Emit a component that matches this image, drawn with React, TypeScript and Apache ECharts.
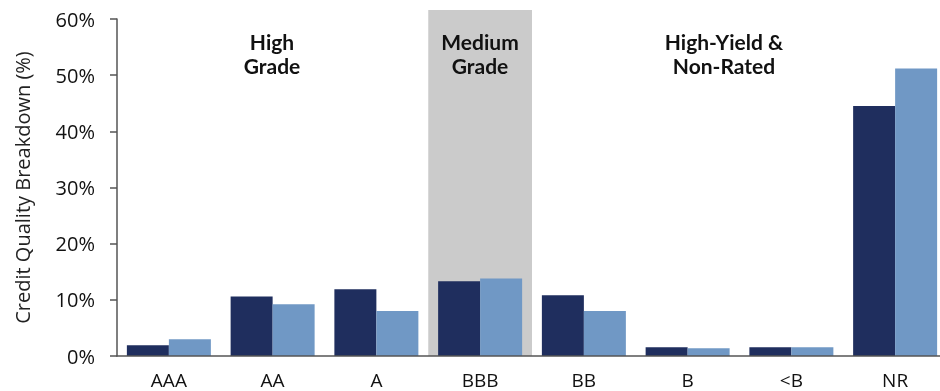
import React, { useEffect, useRef } from "react";
import * as echarts from "echarts";

const categories = ["AAA", "AA", "A", "BBB", "BB", "B", "<B", "NR"];
const seriesDark = [1.9, 10.6, 11.9, 13.3, 10.8, 1.55, 1.55, 44.5];
const seriesLight = [3.0, 9.2, 8.0, 13.8, 8.0, 1.4, 1.55, 51.2];
const bandValues = [null, null, null, 61.6, null, null, null, null];
const yTicks = [0, 10, 20, 30, 40, 50, 60];
const groupLabels = ["High\nGrade", "Medium\nGrade", "High-Yield &\nNon-Rated"];

export default function App() {
  const ref = useRef<HTMLDivElement>(null);
  useEffect(() => {
    if (!ref.current) return;
    const chart = echarts.init(ref.current, null, { renderer: "svg" });
    const font = "'Open Sans', 'Noto Sans', sans-serif";
    const labelStyle = {
      fill: "#111",
      font: "bold 21px Lato, 'Noto Sans', sans-serif",
      textAlign: "center",
      lineHeight: 24,
    };
    chart.setOption({
      animation: false,
      grid: { left: 117, right: 0, top: 19, bottom: 35 },
      xAxis: [
        {
          type: "category",
          data: categories,
          axisLine: { show: true, lineStyle: { color: "#555", width: 1.5 } },
          axisTick: { show: false },
          axisLabel: { color: "#111", fontSize: 19, lineHeight: 19, fontFamily: font, margin: 14 },
          z: 5,
        },
        {
          type: "category",
          data: categories,
          show: false,
        },
      ],
      yAxis: {
        type: "value",
        min: yTicks[0],
        max: yTicks[yTicks.length - 1],
        interval: 10,
        name: "Credit Quality Breakdown (%)",
        nameLocation: "middle",
        nameRotate: 90,
        nameGap: 85,
        nameTextStyle: { color: "#222", fontSize: 20, fontFamily: font },
        axisLine: { show: true, lineStyle: { color: "#555", width: 1.5 } },
        axisTick: { show: true, length: 7, lineStyle: { color: "#555", width: 1.5 } },
        axisLabel: { color: "#111", fontSize: 20, fontFamily: font, margin: 22, formatter: "{value}%" },
        splitLine: { show: false },
        z: 5,
      },
      series: [
        {
          type: "bar",
          xAxisIndex: 1,
          data: bandValues,
          barWidth: "100%",
          clip: false,
          itemStyle: { color: "#CBCBCB" },
          z: 1,
          silent: true,
        },
        {
          type: "bar",
          data: seriesDark,
          barWidth: 42,
          barGap: "0%",
          itemStyle: { color: "#1F2E5E" },
          z: 2,
        },
        {
          type: "bar",
          data: seriesLight,
          barWidth: 42,
          barGap: "0%",
          itemStyle: { color: "#7098C5" },
          z: 2,
        },
      ],
      graphic: [
        { type: "text", x: 272, y: 29, z: 10, style: { ...labelStyle, text: groupLabels[0] } },
        { type: "text", x: 480, y: 29, z: 10, style: { ...labelStyle, text: groupLabels[1] } },
        { type: "text", x: 724, y: 29, z: 10, style: { ...labelStyle, text: groupLabels[2] } },
      ],
    });
    return () => chart.dispose();
  }, []);
  return (
    <div
      ref={ref}
      style={{ position: "fixed", left: 0, top: 0, width: 947, height: 391 }}
    />
  );
}
